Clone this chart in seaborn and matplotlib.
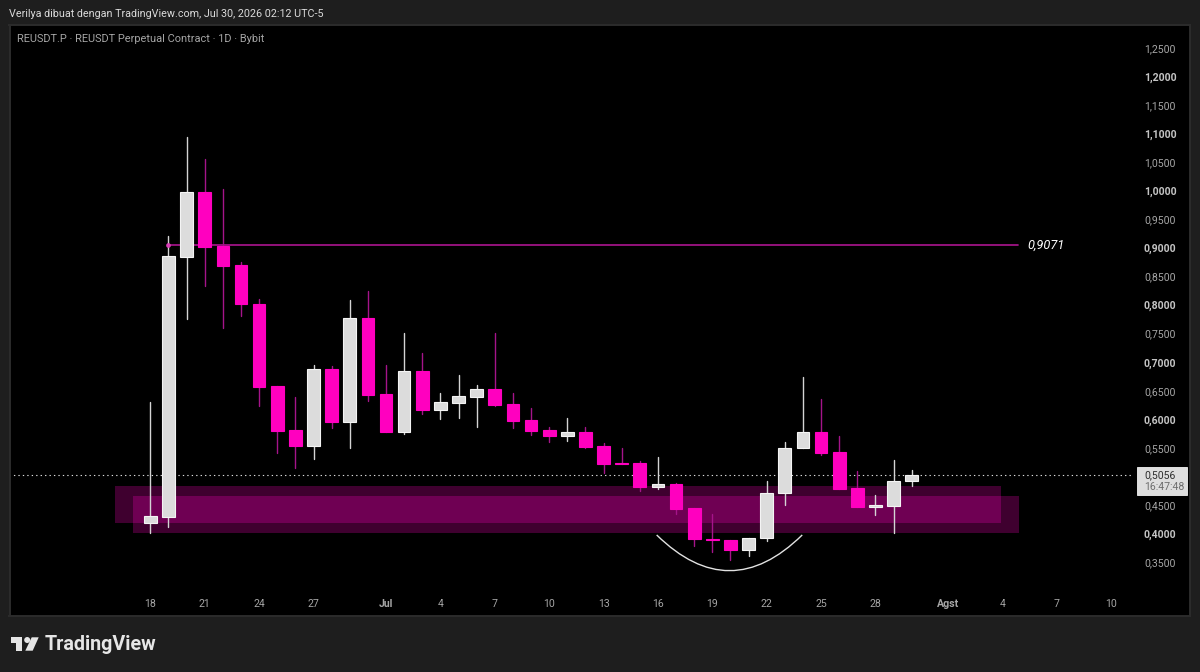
"""
Recreates a TradingView daily candlestick screenshot (REUSDT.P, Bybit).
Saves out.png.
"""

import matplotlib
matplotlib.use("Agg")
import matplotlib.pyplot as plt
from matplotlib.patches import Circle, PathPatch, Polygon, Rectangle
from matplotlib.path import Path
from matplotlib.transforms import ScaledTranslation
import pandas as pd
import seaborn as sns

# daily candles, first one is 18 June
opens = [0.4219, 0.4324, 0.8872, 1.0010, 0.9060, 0.8727, 0.8045, 0.6610, 0.5840, 0.5561, 0.6908,
         0.5986, 0.7805, 0.6470, 0.5811, 0.6873, 0.6185, 0.6313, 0.6423, 0.6563, 0.6295, 0.6015,
         0.5835, 0.5735, 0.5805, 0.5561, 0.5263, 0.5258, 0.4848, 0.4890, 0.4471, 0.3939, 0.3921,
         0.3736, 0.3946, 0.4733, 0.5526, 0.5811, 0.5456, 0.4826, 0.4493, 0.4511, 0.4948]
highs = [0.6336, 0.9234, 1.0961, 1.0576, 1.0052, 0.8785, 0.8127, 0.6610, 0.6423, 0.6978, 0.6965,
         0.8115, 0.8272, 0.6978, 0.7532, 0.7193, 0.6483, 0.6803, 0.6628, 0.7543, 0.6483, 0.6220,
         0.5898, 0.6050, 0.5888, 0.5608, 0.5520, 0.5298, 0.5373, 0.4918, 0.4471, 0.4366, 0.3921,
         0.3956, 0.4953, 0.5636, 0.6773, 0.6388, 0.5735, 0.5128, 0.4703, 0.5316, 0.5141]
lows = [0.4044, 0.4149, 0.7788, 0.8360, 0.7620, 0.7840, 0.6260, 0.5443, 0.5181, 0.5338, 0.5881,
        0.5520, 0.6348, 0.5811, 0.5770, 0.6120, 0.6033, 0.6056, 0.5898, 0.6266, 0.5881, 0.5758,
        0.5636, 0.5653, 0.5526, 0.5088, 0.5240, 0.4773, 0.4814, 0.4371, 0.3816, 0.3711, 0.3566,
        0.3636, 0.3899, 0.4523, 0.5526, 0.5408, 0.4800, 0.4490, 0.4353, 0.4044, 0.4861]
closes = [0.4341, 0.8885, 1.0010, 0.9047, 0.8715, 0.8040, 0.6598, 0.5828, 0.5561, 0.6908, 0.5986,
          0.7805, 0.6458, 0.5811, 0.6873, 0.6190, 0.6325, 0.6435, 0.6563, 0.6278, 0.6003, 0.5823,
          0.5735, 0.5811, 0.5548, 0.5246, 0.5246, 0.4848, 0.4896, 0.4458, 0.3928, 0.3916, 0.3736,
          0.3956, 0.4744, 0.5531, 0.5811, 0.5443, 0.4814, 0.4499, 0.4523, 0.4953, 0.5053]

# axis labels (bars counted from 18 June)
x_tick_bars = [0, 3, 6, 9, 13, 16, 19, 22, 25, 28, 31, 34, 37, 40, 44, 47, 50, 53]
x_tick_labels = ["18", "21", "24", "27", "Jul", "4", "7", "10", "13", "16", "19", "22", "25", "28",
                 "Agst", "4", "7", "10"]
bold_x_labels = ["Jul", "Agst"]
y_ticks = [0.35, 0.40, 0.45, 0.55, 0.60, 0.65, 0.70, 0.75, 0.80, 0.85, 0.90, 0.95, 1.00, 1.05,
           1.10, 1.15, 1.20, 1.25]
y_tick_labels = ["0,3500", "0,4000", "0,4500", "0,5500", "0,6000", "0,6500", "0,7000", "0,7500",
                 "0,8000", "0,8500", "0,9000", "0,9500", "1,0000", "1,0500", "1,1000", "1,1500",
                 "1,2000", "1,2500"]
bold_y_labels = ["0,4000", "0,6000", "0,7000", "0,8000", "0,9000", "1,0000", "1,1000", "1,2000"]

# drawings on top of the chart
level_price = 0.9071
level_bars = [1, 47.86]
last_price = 0.5056
last_price_bars = [-7.77, 54.2]
zone_a = {"bars": [-1.95, 46.92], "top": 0.4861, "bottom": 0.4219}
zone_b = {"bars": [-0.95, 47.92], "top": 0.4686, "bottom": 0.4044}
arc_bars = [27.93, 31.95, 35.96]
arc_prices = [0.4004, 0.2754, 0.4004]

PINK = "#ff00bf"
PINK_WICK = "#a5148a"
WHITE_BODY = "#dcdcdc"
WHITE_WICK = "#d4d4d4"
BG = "#1e1e1e"
TICK_COLOR = "#a6a6a6"
W, H = 1200, 672


def px_axes(fig):
    # axes sits on the black panel, limits chosen so candles land where they do in the screenshot
    ax = fig.add_axes([9.5 / W, (H - 616) / H, (1190 - 9.5) / W, (616 - 24.5) / H])
    ax.set_facecolor("black")
    return ax


def draw_zones(ax):
    for zone in (zone_a, zone_b):
        ax.fill_between(zone["bars"], zone["bottom"], zone["top"], color=PINK, alpha=0.25, lw=0, zorder=0.5)


def draw_candles(ax, df):
    # wicks: two rows per bar, one line per bar through units
    wicks = df.melt(id_vars=["bar", "side"], value_vars=["low", "high"], value_name="price")
    sns.lineplot(data=wicks, x="bar", y="price", units="bar", estimator=None, hue="side",
                 palette={"up": WHITE_WICK, "down": PINK_WICK}, lw=1.0, legend=False, ax=ax, zorder=1.5)

    for side, color, edge in (("up", WHITE_BODY, "#f4f4f4"), ("down", PINK, PINK)):
        part = df[df["side"] == side]
        sns.barplot(data=part, x="bar", y="body", native_scale=True, errorbar=None, width=0.7,
                    color=color, saturation=1, edgecolor=edge, linewidth=0.8,
                    bottom=part["base"].to_numpy(), zorder=3, ax=ax)


def draw_marks(ax):
    ax.plot(level_bars, [level_price, level_price], color=PINK_WICK, lw=1.25, zorder=1.2)
    ax.plot(level_bars[0], level_price, "o", color="#d83cb4", ms=3.4, mew=0, zorder=2.5)
    ax.text(47.86 + 0.5, level_price, "0,9071", color="white", style="italic", fontsize=9.2,
            va="center", ha="left", zorder=5)
    ax.plot(last_price_bars, [last_price, last_price], color="#dcdcdc", lw=0.8, ls=(0, (1.2, 2.8)), zorder=1.2)

    arc = Path(list(zip(arc_bars, arc_prices)), [Path.MOVETO, Path.CURVE3, Path.CURVE3])
    ax.add_patch(PathPatch(arc, fc="none", ec="#e2e2e2", lw=1.0, zorder=4))


def style_axes(ax, fig):
    ax.set_xlim(-7.77, 57.35)
    ax.set_ylim(0.2586, 1.2935)
    ax.set_xlabel("")
    ax.set_ylabel("")
    ax.grid(False)
    for spine in ax.spines.values():
        spine.set_color("#2c2c2c")
        spine.set_linewidth(1.4)

    ax.set_xticks(x_tick_bars, x_tick_labels)
    ax.tick_params(axis="x", length=0, pad=-12, colors=TICK_COLOR, labelsize=7.6)
    for label in ax.get_xticklabels():
        if label.get_text() in bold_x_labels:
            label.set_fontweight("bold")

    ax.yaxis.tick_right()
    ax.set_yticks(y_ticks, y_tick_labels)
    ax.tick_params(axis="y", length=0, pad=-33.2, colors=TICK_COLOR, labelsize=7.6)
    nudge = ScaledTranslation(0, 1.5 / 100, fig.dpi_scale_trans)
    for label in ax.get_yticklabels():
        label.set_transform(label.get_transform() + nudge)
        if label.get_text() in bold_y_labels:
            label.set_fontweight("bold")
            label.set_color("#c4c4c4")


def draw_price_tag(fig):
    fig.add_artist(Rectangle((1137 / W, 1 - 495 / H), 50 / W, 28 / H, transform=fig.transFigure,
                             fc="#dedede", ec="#f2f2f2", lw=0.6, zorder=6))
    fig.text(1144 / W, 1 - 475 / H, "0,5056", color="#2e2e2e", fontsize=7.6, va="center", zorder=7)
    fig.text(1144 / W, 1 - 487.5 / H, "16:47:48", color="#6e6e6e", fontsize=7.6, va="center", zorder=7)


def draw_header_footer(fig):
    fig.text(9 / W, 1 - 14 / H, "Verilya dibuat dengan TradingView.com, Jul 30, 2026 02:12 UTC-5",
             color="#dadada", fontsize=7.75, va="center")
    fig.text(17 / W, 1 - 39 / H, "REUSDT.P · REUSDT Perpetual Contract · 1D · Bybit",
             color="#a4a4a4", fontsize=7.95, va="center")

    # logo glyph, in pixels measured from the top left of the picture
    logo = "#e6e6e6"
    pts = lambda xy: [(x / W, 1 - y / H) for x, y in xy]
    t_shape = [(11, 637.3), (22.3, 637.3), (22.3, 650.7), (15.7, 650.7), (15.7, 643.3), (11, 643.3)]
    seven = [(31.7, 637.3), (38.7, 637.3), (32.7, 650.7), (25.3, 650.7)]
    fig.add_artist(Polygon(pts(t_shape), closed=True, fc=logo, ec="none", transform=fig.transFigure))
    fig.add_artist(Polygon(pts(seven), closed=True, fc=logo, ec="none", transform=fig.transFigure))
    dot = Circle((27.2, H - 640), 3.0, fc=logo, ec="none", transform=None)
    fig.add_artist(dot)
    fig.text(45 / W, 1 - 644.5 / H, "TradingView", color=logo, fontsize=14.2, fontweight="bold",
             family="Roboto", va="center")


def main():
    sns.set_theme(style="dark")
    plt.rcParams["font.family"] = ["Roboto", "DejaVu Sans"]

    df = pd.DataFrame({"open": opens, "high": highs, "low": lows, "close": closes})
    df["bar"] = range(len(df))
    df["side"] = ["up" if c >= o else "down" for o, c in zip(opens, closes)]
    df["base"] = df[["open", "close"]].min(axis=1)
    df["body"] = (df["close"] - df["open"]).abs()

    fig = plt.figure(figsize=(W / 100, H / 100), dpi=100, facecolor=BG)
    ax = px_axes(fig)
    draw_zones(ax)
    draw_candles(ax, df)
    draw_marks(ax)
    style_axes(ax, fig)
    draw_price_tag(fig)
    draw_header_footer(fig)
    fig.savefig("out.png", dpi=100, facecolor=BG)
    plt.close(fig)


if __name__ == "__main__":
    main()
